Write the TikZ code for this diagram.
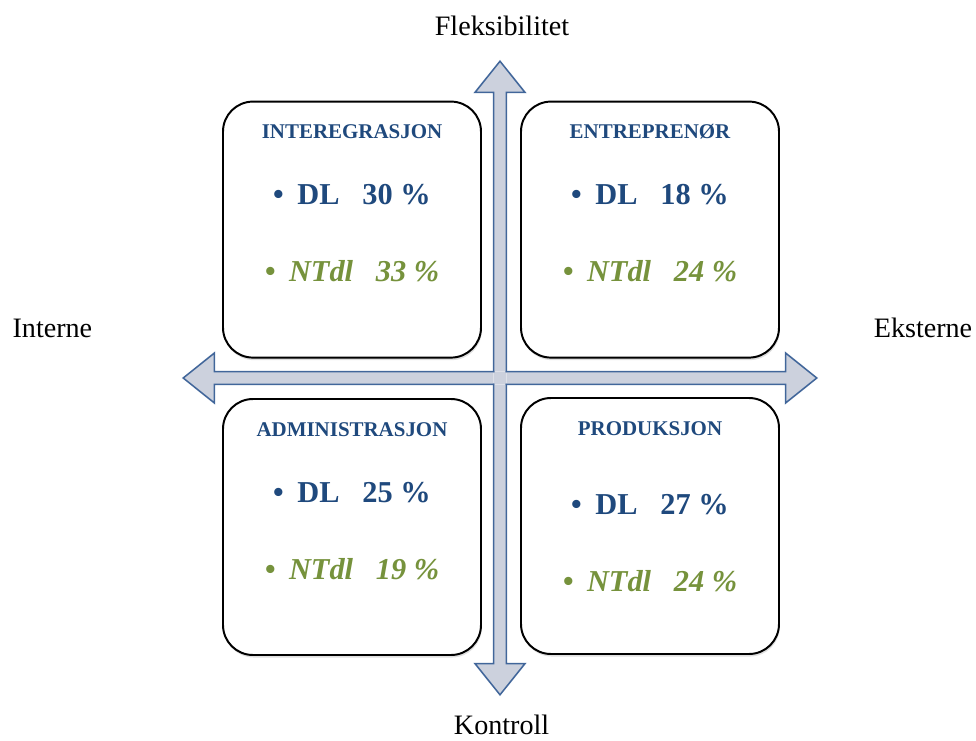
\documentclass[tikz,border=0pt]{standalone}
\usepackage{fontspec}
\setmainfont{Liberation Serif}
\usetikzlibrary{shadows}

\definecolor{tittelblaa}{RGB}{31,73,125}
\definecolor{ntgronn}{RGB}{118,146,60}
\definecolor{pilfyll}{RGB}{204,209,221}
\definecolor{pilkant}{RGB}{65,102,154}

\begin{document}
\begin{tikzpicture}[line width=1.4pt,
    pil/.style={draw=pilkant, fill=pilfyll, line width=1.1pt, line cap=rect, line join=miter},
    boks/.style={draw=black, fill=white, rounded corners=0.75cm, minimum width=6.45cm,
                 minimum height=6.4cm, drop shadow={shadow xshift=0.6pt, shadow yshift=-1.8pt, opacity=0.25}},
    tittel/.style={anchor=base, text=tittelblaa, font=\fontsize{14.9}{17}\selectfont\bfseries},
    dl/.style={anchor=base, text=tittelblaa, font=\fontsize{21.6}{25}\selectfont\bfseries},
    ntdl/.style={anchor=base, text=ntgronn, font=\fontsize{21.6}{25}\selectfont\bfseries\itshape},
    akse/.style={anchor=base, font=\fontsize{20}{24}\selectfont}]

    \useasboundingbox (-12.5, -9.05) rectangle (11.9, 9.45);

    % -- Kors: fire piler fra midten --
    \fill[pilfyll] (-0.16, -0.16) rectangle (0.16, 0.16);
    \foreach \vinkel in {0, 90, 180, 270}
        \draw[pil, rotate=\vinkel] (0.16, 0.16) -- (0.16, 7.14) -- (0.625, 7.14) -- (0, 7.92)
                                   -- (-0.625, 7.14) -- (-0.16, 7.14) -- (-0.16, 0.16);

    % Kommando \kvadrant: navn, sentrum, tittel, DL, NTdl, ekstra forskyvning
    \def\kvadrant#1#2#3#4#5#6{%
        \node[boks] (#1) at (#2) {};%
        \node[tittel] (#1-tittel) at ([yshift=-0.95cm]#1.north) {#3};%
        \node[dl] (#1-dl) at ([yshift=-2.6cm-#6cm]#1.north) {\textbullet\hspace{0.45em}DL\hspace{0.75em}#4 \%};%
        \node[ntdl] (#1-ntdl) at ([yshift=-4.525cm-#6cm]#1.north) {\textbullet\hspace{0.45em}NTdl\hspace{0.75em}#5 \%};%
    }

    % -- De fire kvadrantene --
    \kvadrant{intern}{-3.7, 3.71}{INTEREGRASJON}{30}{33}{0}
    \kvadrant{entre}{3.75, 3.71}{ENTREPRENØR}{18}{24}{0}
    \kvadrant{admin}{-3.7, -3.725}{ADMINISTRASJON}{25}{19}{0}
    \kvadrant{prod}{3.75, -3.7}{PRODUKSJON}{27}{24}{0.33}

    % -- Aksene --
    \node[akse] (fleks) at (0.05, 8.55) {Fleksibilitet};
    \node[akse] (kontroll) at (0.04, -8.9) {Kontroll};
    \node[akse] (interne) at (-11.19, 1.025) {Interne};
    \node[akse] (eksterne) at (10.575, 1.025) {Eksterne};
\end{tikzpicture}
\end{document}
